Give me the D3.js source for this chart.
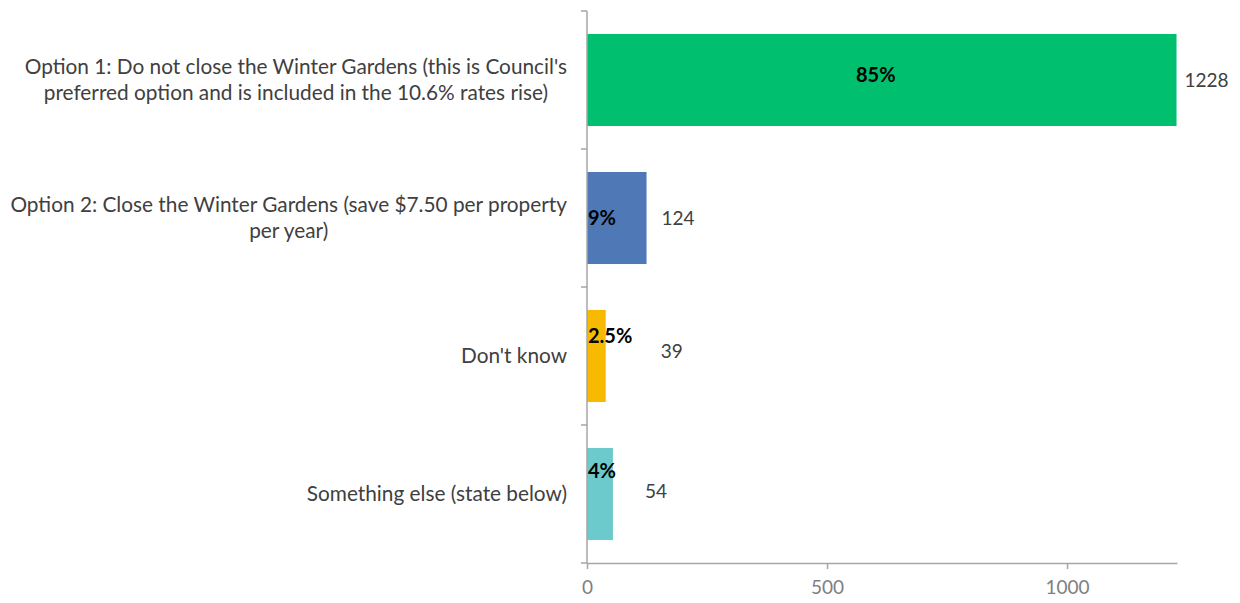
<!DOCTYPE html>
<html>
<head>
<meta charset="utf-8">
<script src="https://cdn.jsdelivr.net/npm/d3@7"></script>
<style>
  html, body { margin: 0; padding: 0; background: #fff; }
  svg { display: block; }
  text { font-family: Lato, "Open Sans", sans-serif; }
</style>
</head>
<body>
<svg id="chart" width="1240" height="603"></svg>
<script>
// Survey responses on the Winter Gardens options
const categories = [
  ["Option 1: Do not close the Winter Gardens (this is Council's", "preferred option and is included in the 10.6% rates rise)"],
  ["Option 2: Close the Winter Gardens (save $7.50 per property", "per year)"],
  ["Don't know"],
  ["Something else (state below)"]
];
const counts = [1228, 124, 39, 54];
const percentLabels = ["85%", "9%", "2.5%", "4%"];
const barColors = ["#00BF6F", "#4F79B6", "#F8BA00", "#6CC9CC"];
const xTicks = [0, 500, 1000];

const svg = d3.select("#chart");
const margin = { top: 11, left: 587, right: 63, bottom: 40 };
const width = 1240 - margin.left - margin.right;
const height = 563 - margin.top;

const x = d3.scaleLinear().domain([0, 1229]).range([0, width]);
const y = d3.scaleBand().domain(d3.range(categories.length)).range([0, height])
  .paddingInner(0.333).paddingOuter(0.1665);

const g = svg.append("g").attr("transform", `translate(${margin.left},${margin.top})`);

// Bars
g.selectAll("rect.bar").data(counts).join("rect")
  .attr("class", "bar")
  .attr("x", 0)
  .attr("y", (d, i) => y(i))
  .attr("width", d => x(d))
  .attr("height", y.bandwidth())
  .attr("fill", (d, i) => barColors[i]);

// Percentage labels: centred in the wide bar, tucked at the base of narrow ones
const pctDy = [-5, 0, -20, -23];
g.selectAll("text.pct").data(counts).join("text")
  .attr("class", "pct")
  .attr("x", (d, i) => i === 0 ? x(d) / 2 - 6 : 1)
  .attr("y", (d, i) => y(i) + y.bandwidth() / 2 + pctDy[i])
  .attr("dy", "0.35em")
  .attr("text-anchor", (d, i) => i === 0 ? "middle" : "start")
  .attr("font-weight", "bold")
  .attr("font-size", 20)
  .attr("fill", "#000")
  .text((d, i) => percentLabels[i]);

// Count labels beside the bars
const countDx = [8, 15, 55, 32];
const countDy = [0, 0, -5, -3];
g.selectAll("text.count").data(counts).join("text")
  .attr("class", "count")
  .attr("x", (d, i) => x(d) + countDx[i])
  .attr("y", (d, i) => y(i) + y.bandwidth() / 2 + countDy[i])
  .attr("dy", "0.35em")
  .attr("font-size", 19)
  .attr("fill", "#404040")
  .text(d => d);

// Category axis
const yAxis = g.append("g");
yAxis.append("line")
  .attr("x1", 0).attr("x2", 0).attr("y1", 0).attr("y2", height)
  .attr("stroke", "#A6A6A6").attr("stroke-width", 1.5);
yAxis.selectAll("line.tick").data(d3.range(categories.length + 1)).join("line")
  .attr("class", "tick")
  .attr("x1", -6).attr("x2", 0)
  .attr("y1", i => i * height / categories.length)
  .attr("y2", i => i * height / categories.length)
  .attr("stroke", "#A6A6A6").attr("stroke-width", 1.5);

const lineH = 26;
const catLabels = yAxis.selectAll("text.cat").data(categories).join("text")
  .attr("class", "cat")
  .attr("font-size", 20.8)
  .attr("fill", "#404040")
  .attr("text-anchor", "middle");
catLabels.each(function(lines, i) {
  const t = d3.select(this);
  const cy = y(i) + y.bandwidth() / 2;
  const spans = lines.map((ln, k) => t.append("tspan")
    .attr("x", 0)
    .attr("y", cy + (k - (lines.length - 1) / 2) * lineH)
    .attr("dy", "0.35em")
    .text(ln));
  // centre the lines on each other, then right-align the block against the axis
  const w = d3.max(spans, s => s.node().getComputedTextLength());
  spans.forEach(s => s.attr("x", -20 - w / 2));
});

// Value axis
const xAxis = g.append("g").attr("transform", `translate(0,${height})`)
  .call(d3.axisBottom(x).tickValues(xTicks).tickFormat(d3.format("d"))
    .tickSize(6).tickSizeOuter(0).tickPadding(12));
xAxis.select(".domain").attr("stroke", "#A6A6A6").attr("stroke-width", 1.5);
xAxis.selectAll(".tick line").attr("stroke", "#A6A6A6").attr("stroke-width", 1.5);
xAxis.selectAll(".tick text")
  .attr("font-size", 19)
  .attr("font-family", "Lato, 'Open Sans', sans-serif")
  .attr("fill", "#808080");
</script>
</body>
</html>
